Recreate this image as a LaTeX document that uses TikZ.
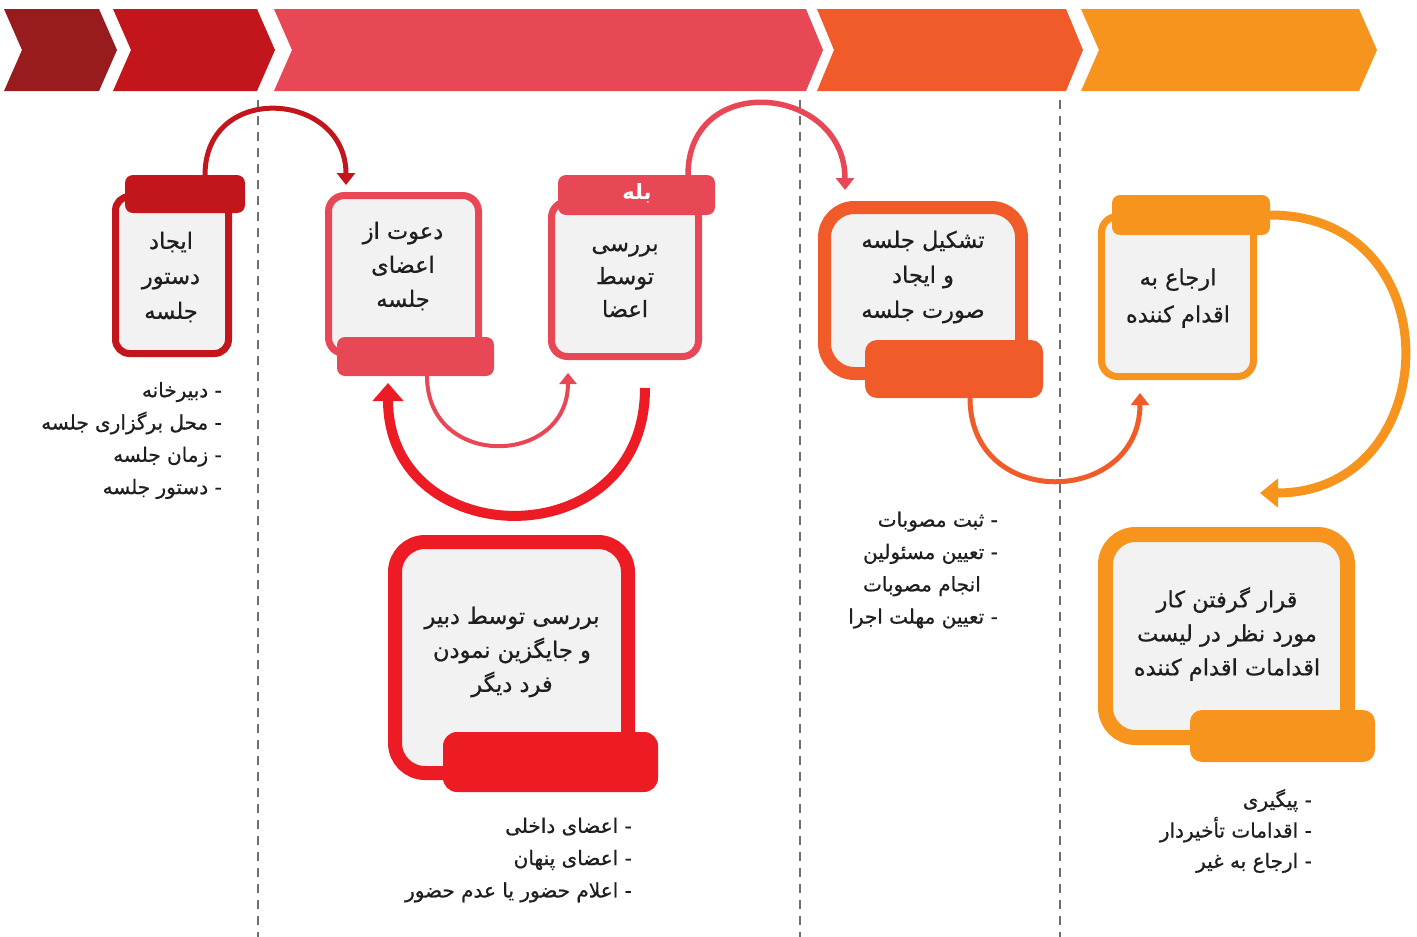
\documentclass[tikz,border=0pt]{standalone}
\usepackage{fontspec}
\newfontfamily\arabicfont[Script=Arabic, FakeBold=0.7]{DejaVu Sans}
\newfontfamily\arabicbold[Script=Arabic]{DejaVu Sans Bold}
\TeXXeTstate=1
\usetikzlibrary{arrows.meta}
\newcommand{\pers}[1]{\beginR #1\endR}
\definecolor{cA}{HTML}{981B1E}
\definecolor{cB}{HTML}{C3161C}
\definecolor{cC}{HTML}{E84755}
\definecolor{cD}{HTML}{ED1C24}
\definecolor{cE}{HTML}{F15A29}
\definecolor{cF}{HTML}{F7941D}
\definecolor{boxfill}{HTML}{F2F2F2}
\definecolor{txt}{HTML}{1E1E1E}
\definecolor{sepgray}{HTML}{6E6E6E}
\begin{document}
\begin{tikzpicture}[x=1pt,y=1pt,
  box/.style={rectangle, fill=boxfill, inner sep=0pt},
  tab/.style={rectangle, inner sep=0pt, outer sep=0pt},
  lbl/.style={align=center, inner sep=0pt, text=txt, font={\arabicfont\fontsize{22.5}{35}\selectfont}},
  lst/.style={align=right, inner sep=0pt, anchor=east, text=txt, font={\arabicfont\fontsize{20}{32.3}\selectfont}},
  sep/.style={draw=sepgray, line width=2.2pt, dash pattern=on 9pt off 7pt},
  conn/.style={line width=5pt, -{Triangle[width=18pt,length=12pt]}}
]
\useasboundingbox (0,0) rectangle (1417,-937);
\fill[white] (0,0) rectangle (1417,-937);

% chevron band
\fill[cA] (4,-9) -- (99,-9) -- (117,-50) -- (99,-91) -- (4,-91) -- (22,-50) -- cycle;
\fill[cB] (113,-9) -- (257,-9) -- (275,-50) -- (257,-91) -- (113,-91) -- (131,-50) -- cycle;
\fill[cC] (274,-9) -- (806,-9) -- (823,-50) -- (806,-91) -- (274,-91) -- (292,-50) -- cycle;
\fill[cE] (817,-9) -- (1066,-9) -- (1083,-50) -- (1066,-91) -- (817,-91) -- (834,-50) -- cycle;
\fill[cF] (1081,-9) -- (1359,-9) -- (1377,-50) -- (1359,-91) -- (1081,-91) -- (1099,-50) -- cycle;

% separators
\draw[sep] (258,-100) -- (258,-937);
\draw[sep] (800,-100) -- (800,-937);
\draw[sep] (1060,-100) -- (1060,-937);

% box 1
\node[box, draw=cB, line width=7pt, minimum width=113pt, minimum height=157pt, rounded corners=14pt] (b1) at (172,-275) {};
\node[tab, fill=cB, minimum width=120pt, minimum height=38pt, rounded corners=8pt] (t1) at (185,-194) {};
\node[lbl] (l1) at (171,-277) {\pers{ایجاد}\\\pers{دستور}\\\pers{جلسه}};

% box 2
\node[box, draw=cC, line width=7pt, minimum width=150pt, minimum height=158pt, rounded corners=16pt] (b2) at (403.5,-274.5) {};
\node[tab, fill=cC, minimum width=157pt, minimum height=39pt, rounded corners=8pt] (t2) at (415.5,-356.5) {};
\node[lbl, font={\arabicfont\fontsize{22.5}{34}\selectfont}] (l2) at (403,-266) {\pers{دعوت از}\\\pers{اعضای}\\\pers{جلسه}};

% box 3
\node[box, draw=cC, line width=7pt, minimum width=147pt, minimum height=155pt, rounded corners=16pt] (b3) at (625,-279) {};
\node[tab, fill=cC, minimum width=157pt, minimum height=40pt, rounded corners=8pt] (t3) at (636.5,-195) {};
\node[inner sep=0pt, text=white, font={\arabicbold\fontsize{21}{24}\selectfont}] (yes) at (637,-193) {\pers{بله}};
\node[lbl, font={\arabicfont\fontsize{22.5}{33}\selectfont}] (l3) at (625,-280) {\pers{بررسی}\\\pers{توسط}\\\pers{اعضا}};

% box 4
\node[box, draw=cD, line width=14pt, minimum width=233pt, minimum height=231pt, rounded corners=30pt] (b4) at (511.5,-657.5) {};
\node[tab, fill=cD, minimum width=215pt, minimum height=60pt, rounded corners=14pt] (t4) at (550.5,-762) {};
\node[lbl, font={\arabicfont\fontsize{22.5}{34}\selectfont}] (l4) at (512,-652) {\pers{بررسی توسط دبیر}\\\pers{و جایگزین نمودن}\\\pers{فرد دیگر}};

% box 5
\node[box, draw=cE, line width=13pt, minimum width=197pt, minimum height=166pt, rounded corners=30pt] (b5) at (923,-290.5) {};
\node[tab, fill=cE, minimum width=178pt, minimum height=58pt, rounded corners=12pt] (t5) at (954,-369) {};
\node[lbl] (l5) at (923,-277) {\pers{تشکیل جلسه}\\\pers{و ایجاد}\\\pers{صورت جلسه}};

% box 6
\node[box, draw=cF, line width=7pt, minimum width=152pt, minimum height=160pt, rounded corners=16pt] (b6) at (1177.5,-296.5) {};
\node[tab, fill=cF, minimum width=158pt, minimum height=40pt, rounded corners=8pt] (t6) at (1191,-215) {};
\node[lbl, font={\arabicfont\fontsize{22.5}{37}\selectfont}] (l6) at (1178,-298) {\pers{ارجاع به}\\\pers{اقدام کننده}};

% box 7
\node[box, draw=cF, line width=15pt, minimum width=242pt, minimum height=203pt, rounded corners=30pt] (b7) at (1226.5,-636) {};
\node[tab, fill=cF, minimum width=185pt, minimum height=52pt, rounded corners=12pt] (t7) at (1282.5,-736) {};
\node[lbl, font={\arabicfont\fontsize{22.5}{34}\selectfont}] (l7) at (1227,-634) {\pers{قرار گرفتن کار}\\\pers{مورد نظر در لیست}\\\pers{اقدامات اقدام کننده}};

% lists
\node[lst] (s1) at (222,-440.5) {\pers{- دبیرخانه}\\\pers{- محل برگزاری جلسه}\\\pers{- زمان جلسه}\\\pers{- دستور جلسه}};
\node[lst] (s4) at (632,-860) {\pers{- اعضای داخلی}\\\pers{- اعضای پنهان}\\\pers{- اعلام حضور یا عدم حضور}};
\node[lst] (s5) at (998,-570) {\pers{- ثبت مصوبات}\\\pers{- تعیین مسئولین}\\\pers{انجام مصوبات}\hbox to 17pt{}\\\pers{- تعیین مهلت اجرا}};
\node[lst, font={\arabicfont\fontsize{20}{30.5}\selectfont}] (s7) at (1312,-831) {\pers{- پیگیری}\\\pers{- اقدامات تأخیردار}\\\pers{- ارجاع به غیر}};

% connectors
\draw[conn, draw=cB] ([xshift=20pt]t1.north) to[out=90, in=90, looseness=1.7] ([xshift=-57.5pt, yshift=7pt]b2.north);
\draw[conn, draw=cC, line width=5.5pt] ([xshift=51.5pt]t3.north) to[out=90, in=90, looseness=1.7] ([xshift=-78pt, yshift=11pt]b5.north);
\draw[conn, draw=cC, line width=4pt, -{Triangle[width=17pt,length=11pt]}] ([xshift=11.5pt]t2.south) to[out=-90, in=-90, looseness=1.7] ([xshift=-57pt, yshift=-13pt]b3.south);
\draw[draw=cD, line width=10pt, -{Triangle[width=30pt,length=18pt]}] ([xshift=20pt, yshift=-28pt]b3.south) to[out=-90, in=-90, looseness=1.7] ([xshift=-27.5pt, yshift=-7pt]t2.south);
\draw[conn, draw=cE] ([xshift=16pt]t5.south) to[out=-90, in=-90, looseness=1.7] ([xshift=-37.5pt, yshift=-13pt]b6.south);
\draw[draw=cF, line width=9pt, -{Triangle[width=28pt,length=18pt]}] (t6.east) to[out=0, in=0, looseness=1.7] ([xshift=33.5pt, yshift=34pt]b7.north);
\end{tikzpicture}
\end{document}
